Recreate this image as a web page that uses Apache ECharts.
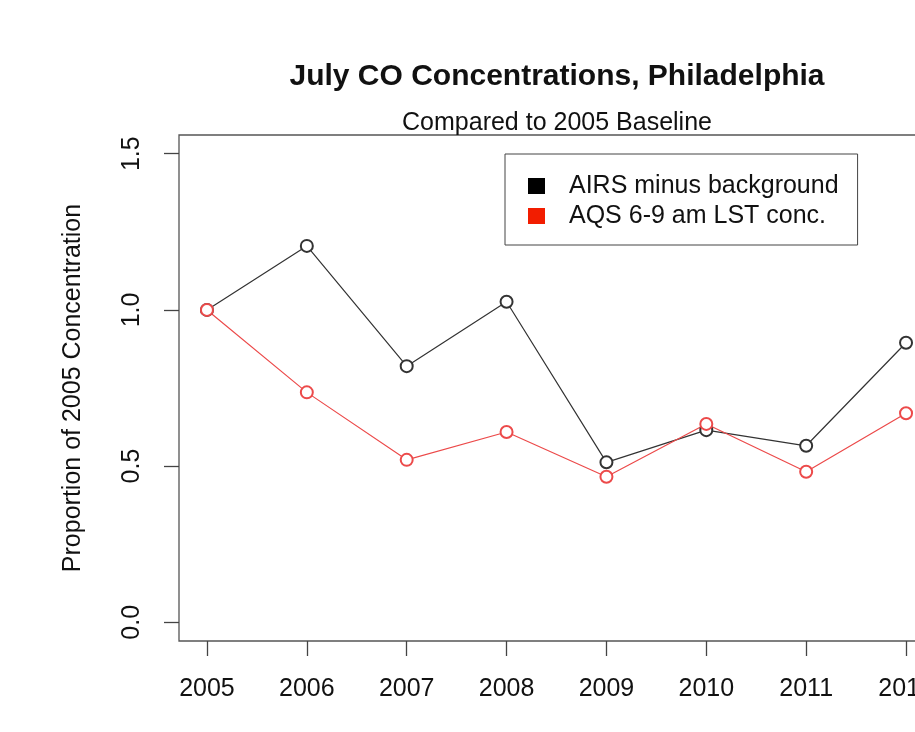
<!DOCTYPE html>
<html>
<head>
<meta charset="utf-8">
<script src="https://cdn.jsdelivr.net/npm/echarts@6/dist/echarts.min.js"></script>
<style>
  html, body { margin: 0; padding: 0; background: #fff; overflow: hidden; }
  /* the plot box runs past the right edge of the picture, so the canvas is wider than the window */
  #chart { width: 945px; height: 732px; }
</style>
</head>
<body>
<div id="chart"></div>
<script>
const years = [2005, 2006, 2007, 2008, 2009, 2010, 2011, 2012]
const airs = [1.0, 1.205, 0.82, 1.026, 0.512, 0.615, 0.565, 0.895]
const aqs = [1.0, 0.736, 0.52, 0.609, 0.466, 0.635, 0.482, 0.669]
const yTicks = [0, 0.5, 1.0, 1.5]

const font = "'Liberation Sans', Arial, sans-serif"
const pair = (vals) => years.map((y, i) => [y, vals[i]])

const chart = echarts.init(document.getElementById('chart'))

chart.setOption({
  animation: false,
  backgroundColor: '#fff',
  textStyle: { fontFamily: font },
  title: [
    {
      text: 'July CO Concentrations, Philadelphia',
      left: 557, top: 62, textAlign: 'center', padding: 0,
      textStyle: { fontSize: 30, fontWeight: 'bold', color: '#111', fontFamily: font, lineHeight: 30 }
    },
    {
      text: 'Compared to 2005 Baseline',
      left: 557, top: 111, textAlign: 'center', padding: 0,
      textStyle: { fontSize: 25, fontWeight: 'normal', color: '#111', fontFamily: font, lineHeight: 25 }
    }
  ],
  legend: {
    left: 505, top: 154,
    orient: 'vertical',
    icon: 'rect',
    itemWidth: 17, itemHeight: 16, itemGap: 4,
    padding: [19, 19, 16, 23],
    borderColor: '#444', borderWidth: 1,
    backgroundColor: '#fff',
    selectedMode: false,
    textStyle: { fontSize: 25, color: '#111', fontFamily: font, lineHeight: 26, padding: [0, 0, 0, 19] },
    data: [
      { name: 'AIRS minus background', itemStyle: { color: '#000', borderWidth: 0 } },
      { name: 'AQS 6-9 am LST conc.', itemStyle: { color: '#f21d00', borderWidth: 0 } }
    ]
  },
  grid: {
    left: 179, top: 135, width: 755, height: 506,
    show: true, borderColor: '#555', borderWidth: 1.3, backgroundColor: 'transparent'
  },
  xAxis: {
    type: 'value',
    min: 2004.72, max: 2012.28,
    axisLine: { show: false, onZero: false },
    splitLine: { show: false },
    axisTick: { show: true, length: 15, customValues: years, lineStyle: { color: '#444', width: 1.3 } },
    axisLabel: { customValues: years, margin: 36, fontSize: 25, color: '#111', fontFamily: font, formatter: v => String(v) }
  },
  yAxis: {
    type: 'value',
    min: -0.06, max: 1.56,
    name: 'Proportion of 2005 Concentration',
    nameLocation: 'middle', nameRotate: 90, nameGap: 93,
    nameTextStyle: { fontSize: 25, color: '#111', fontFamily: font },
    axisLine: { show: false, onZero: false },
    splitLine: { show: false },
    axisTick: { show: true, length: 15, customValues: yTicks, lineStyle: { color: '#444', width: 1.3 } },
    axisLabel: { customValues: yTicks, rotate: 90, margin: 34, fontSize: 25, color: '#111', fontFamily: font, formatter: v => v.toFixed(1) }
  },
  series: [
    {
      name: 'AIRS minus background',
      type: 'line',
      data: pair(airs),
      symbol: 'emptyCircle', symbolSize: 12,
      itemStyle: { color: '#333', borderWidth: 1.2 },
      lineStyle: { color: '#333', width: 1.2 }
    },
    {
      name: 'AQS 6-9 am LST conc.',
      type: 'line',
      data: pair(aqs),
      symbol: 'emptyCircle', symbolSize: 12,
      itemStyle: { color: '#ec4a4a', borderWidth: 1.2 },
      lineStyle: { color: '#ec4a4a', width: 1.2 }
    }
  ]
})
</script>
</body>
</html>
